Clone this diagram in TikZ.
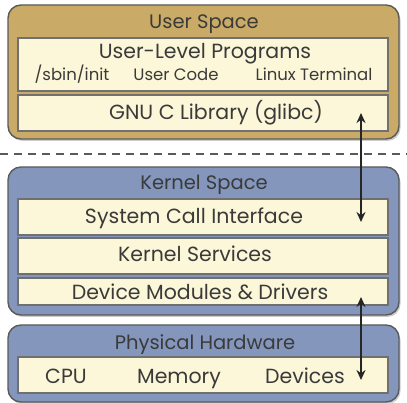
\documentclass[tikz,border=0pt]{standalone}
\usepackage{fontspec}
\setmainfont{Poppins}
\usetikzlibrary{shadows,arrows.meta}
\definecolor{goldfill}{HTML}{C9AA66}
\definecolor{bluefill}{HTML}{8496BC}
\definecolor{creamfill}{HTML}{FCF7D8}
\definecolor{outerline}{HTML}{5A5A5A}
\definecolor{innerline}{HTML}{707070}
\definecolor{txt}{HTML}{3A3A3A}
\tikzset{
  outerbox/.style={draw=outerline, line width=1.4pt, rounded corners=13pt, inner sep=0pt,
    drop shadow={shadow xshift=1.5pt, shadow yshift=-2pt, opacity=0.4}},
  goldbox/.style={outerbox, fill=goldfill},
  bluebox/.style={outerbox, fill=bluefill},
  innerbox/.style={draw=innerline, line width=1.1pt, fill=creamfill, inner sep=0pt, minimum width=370pt},
  lbl/.style={text=txt, inner sep=0pt, anchor=base},
  title/.style={lbl, font=\fontsize{19.5}{21}\selectfont},
  big/.style={lbl, font=\fontsize{20.5}{23}\selectfont},
  small/.style={lbl, font=\fontsize{16.5}{18}\selectfont},
  conn/.style={draw=black!85, line width=2pt, {Stealth[length=10pt,width=9pt]}-{Stealth[length=10pt,width=9pt]},
    drop shadow={shadow xshift=1.2pt, shadow yshift=-1.2pt, opacity=0.3}},
}
\begin{document}
\begin{tikzpicture}[x=1pt,y=-1pt]
\useasboundingbox (0,0) rectangle (407,403);
% User space
\node[goldbox, minimum width=391pt, minimum height=134pt] (us) at (203.5,72) {};
\node[innerbox, minimum height=53pt] (ulp) at (203,64.5) {};
\node[innerbox, minimum height=36pt] (gnu) at (203,113) {};
\node[title] (ust) at (204,28.5) {User Space};
\node[big] (ulpt) at (205,59) {User-Level Programs};
\node[small] (sbin) at (72,81) {/sbin/init};
\node[small] (ucode) at (176,81) {User Code};
\node[small] (lterm) at (314,81) {Linux Terminal};
\node[big] (gnut) at (216,120) {GNU C Library (glibc)};
% separator
\coordinate (sepl) at (0,154);
\coordinate (sepr) at (407,154);
\draw[outerline, line width=1.1pt, dash pattern=on 8pt off 6pt] (sepl) -- (sepr);
% Kernel space
\node[bluebox, minimum width=391pt, minimum height=148pt] (ks) at (203.5,241) {};
\node[innerbox, minimum height=36pt] (sci) at (203,217) {};
\node[innerbox, minimum height=36pt] (ksv) at (203,256) {};
\node[innerbox, minimum height=27pt] (dmd) at (203,291.5) {};
\node[title] (kst) at (204,190) {Kernel Space};
\node[big] (scit) at (194,224) {System Call Interface};
\node[big] (ksvt) at (195,262) {Kernel Services};
\node[big] (dmdt) at (200,300) {Device Modules \& Drivers};
% Physical hardware
\node[bluebox, minimum width=391pt, minimum height=77pt] (ph) at (203.5,363.5) {};
\node[innerbox, minimum height=36pt] (hw) at (203,375) {};
\node[title] (pht) at (205,349) {Physical Hardware};
\node[big] (cpu) at (66,383) {CPU};
\node[big] (mem) at (179,383) {Memory};
\node[big] (dev) at (305,383) {Devices};
% connectors
\coordinate (a1) at (361,113);
\coordinate (a2) at (361,222);
\coordinate (b1) at (361,297);
\coordinate (b2) at (361,380);
\draw[conn] (a1) -- (a2);
\draw[conn] (b1) -- (b2);
\end{tikzpicture}
\end{document}
